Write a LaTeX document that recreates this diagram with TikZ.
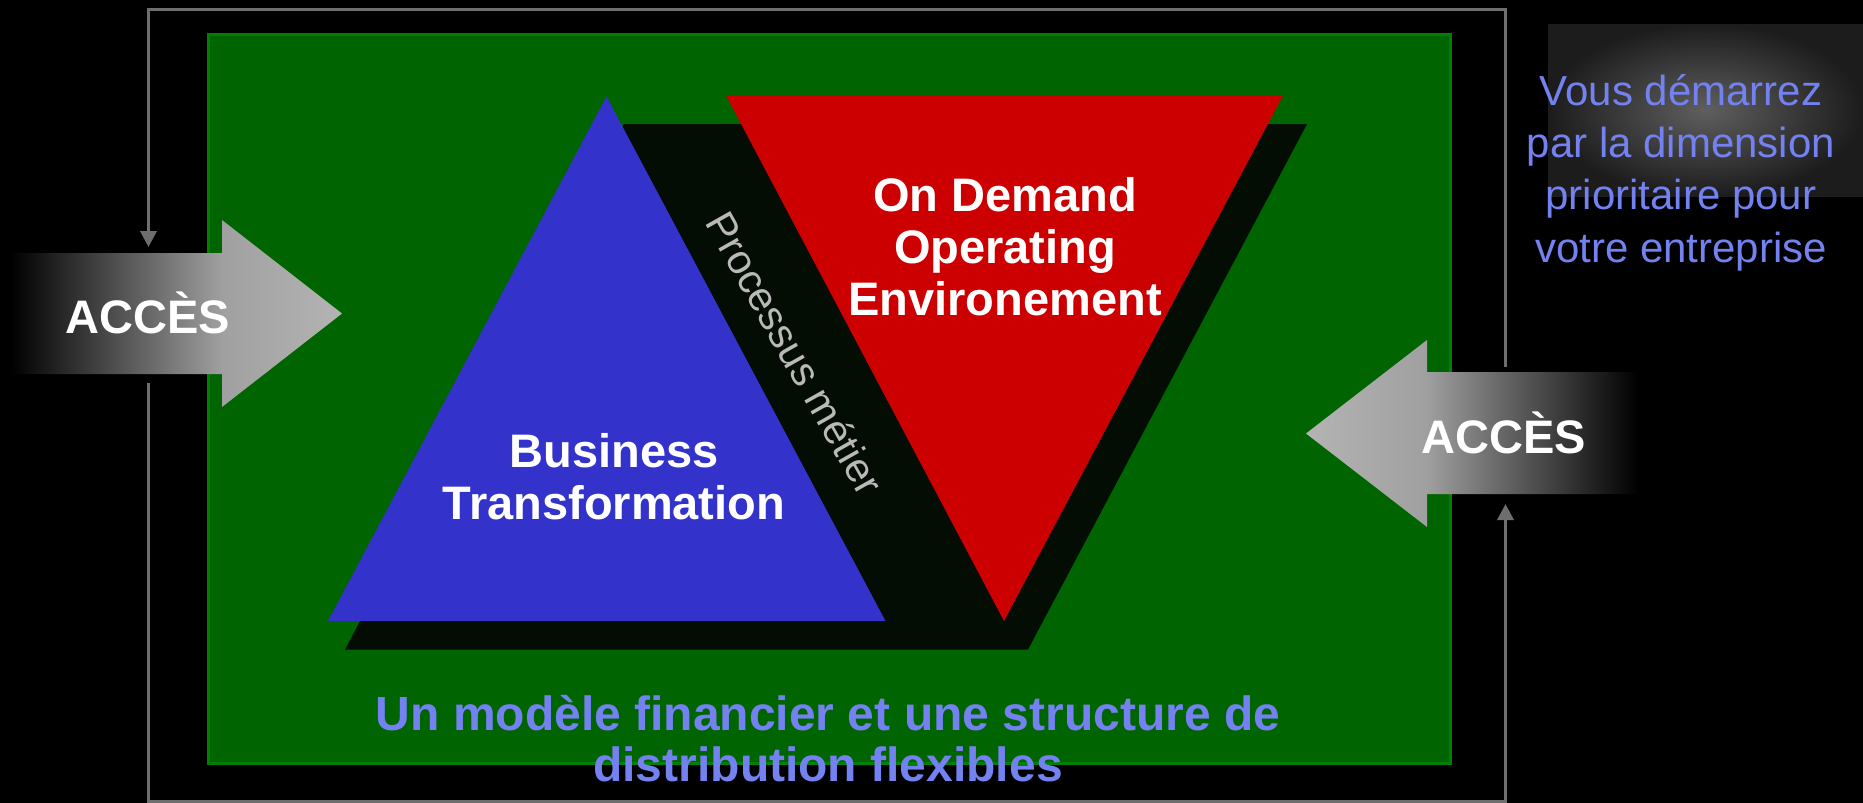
\documentclass[tikz,border=0pt]{standalone}
\usepackage{fontspec}
\setmainfont{Liberation Sans}
\usetikzlibrary{arrows.meta}
\definecolor{frameGray}{RGB}{110,110,110}
\definecolor{bgGreen}{RGB}{0,100,0}
\definecolor{bdGreen}{RGB}{0,128,0}
\definecolor{triBlue}{RGB}{51,51,204}
\definecolor{triRed}{RGB}{204,0,0}
\definecolor{shadowBlk}{RGB}{3,13,3}
\definecolor{noteBlue}{RGB}{115,130,240}
\definecolor{procGray}{RGB}{185,185,185}
\definecolor{accMid}{RGB}{160,160,160}
\definecolor{accEnd}{RGB}{180,180,180}
\definecolor{glowIn}{RGB}{95,95,95}
\definecolor{glowOut}{RGB}{28,28,28}
\pgfdeclarehorizontalshading{accshadeL}{100bp}{color(0bp)=(black); color(25bp)=(black); color(57bp)=(accMid); color(75bp)=(accEnd); color(100bp)=(accEnd)}
\pgfdeclarehorizontalshading{accshadeR}{100bp}{color(0bp)=(accEnd); color(25bp)=(accEnd); color(43bp)=(accMid); color(75bp)=(black); color(100bp)=(black)}
\newcommand\pxfont[2]{\fontsize{#1}{#2}\selectfont}
\begin{document}
\begin{tikzpicture}[x=1pt,y=-1pt,
  framelink/.style={draw=frameGray, line width=3.5pt, -{Triangle[width=16pt,length=16pt]}},
  bigwhite/.style={text=white, inner sep=0pt, align=center, font=\pxfont{47}{52}\bfseries},
  bluetext/.style={text=noteBlue, inner sep=0pt, align=center}]
\useasboundingbox (0,0) rectangle (1863,803);
\fill[black] (0,0) rectangle (1863,803);

% frame connectors
\coordinate (fTL) at (148.5,9.5);
\coordinate (fTR) at (1505.5,9.5);
\coordinate (fBL) at (148.5,801.5);
\coordinate (fBR) at (1505.5,801.5);
\coordinate (lInTip) at (148.5,247);
\coordinate (lOut) at (148.5,383);
\coordinate (rOut) at (1505.5,367);
\coordinate (rInTip) at (1505.5,504);
\draw[framelink] (rOut) -- (fTR) -- (fTL) -- (lInTip);
\draw[framelink] (lOut) -- (fBL) -- (fBR) -- (rInTip);

% green panel
\path[fill=bgGreen, draw=bdGreen, line width=3pt] (208.5,34.5) rectangle (1450.5,763.5);

% shadow
\fill[shadowBlk] (624,124) -- (1307,124) -- (1028,649.5) -- (345,649.5) -- cycle;

% triangles
\fill[triBlue] (606.5,96.5) -- (885.5,621) -- (328,621) -- cycle;
\fill[triRed] (726,95.5) -- (1283,95.5) -- (1004,621) -- cycle;

% access arrows
\path[shading=accshadeL] (11,253) -- (222,253) -- (222,220) -- (342,313.5) -- (222,407) -- (222,374) -- (11,374) -- cycle;
\path[shading=accshadeR] (1638,372) -- (1427,372) -- (1427,340) -- (1306,433.5) -- (1427,527) -- (1427,494) -- (1638,494) -- cycle;

% glow box
\shade[inner color=glowIn, outer color=glowOut] (1548,24) rectangle (1863,196);

% texts
\node[bigwhite] (bt) at (614,477) {Business\\Transformation};
\node[bigwhite] (ode) at (1005,246.5) {On Demand\\Operating\hspace*{9pt}\\Environement};
\node[text=procGray, inner sep=0pt, font=\pxfont{41}{48}, rotate=-60.5] (proc) at (795,353) {Processus métier};
\node[bigwhite, anchor=base] (accL) at (148,333) {ACCÈS};
\node[bigwhite, anchor=base] (accR) at (1504,453.5) {ACCÈS};
\node[bluetext, font=\pxfont{42}{52.3}] (note) at (1681,172.5) {Vous démarrez\\par la dimension\\prioritaire pour\\votre entreprise};
\node[bluetext, font=\pxfont{48}{51}\bfseries] (bottom) at (828,738.5) {Un modèle financier et une structure de\\distribution flexibles};
\end{tikzpicture}
\end{document}
